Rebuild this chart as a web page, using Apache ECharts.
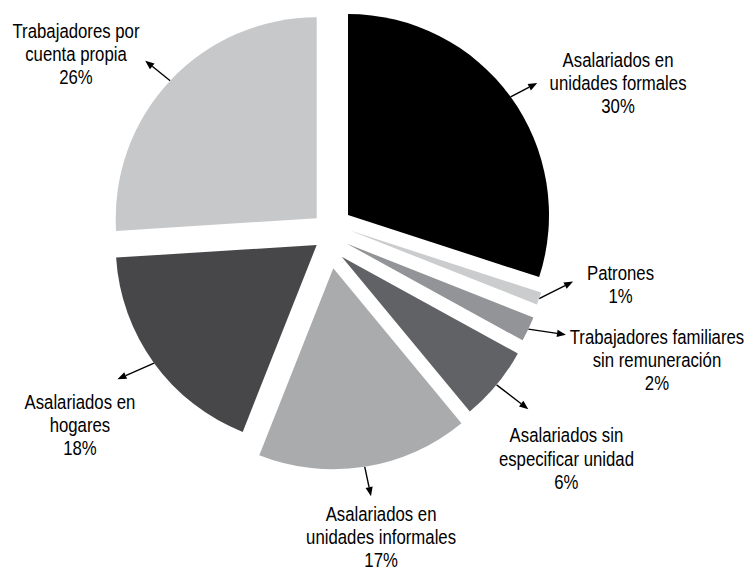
<!DOCTYPE html>
<html>
<head>
<meta charset="utf-8">
<script src="https://cdn.jsdelivr.net/npm/echarts@6/dist/echarts.min.js"></script>
<style>
html, body { margin: 0; padding: 0; background: #fff; }
#chartPie { width: 748px; height: 569px; }
</style>
</head>
<body>
<div id="chartPie"></div>
<script>
// data
var categories = [
    "Asalariados en\nunidades formales",
    "Patrones",
    "Trabajadores familiares\nsin remuneración",
    "Asalariados sin\nespecificar unidad",
    "Asalariados en\nunidades informales",
    "Asalariados en\nhogares",
    "Trabajadores por\ncuenta propia"
];
var shares = [30, 1, 2, 6, 17, 18, 26];

// style
var colors = ["#000000", "#cbcccd", "#929497", "#616266", "#aaabad", "#47474a", "#c7c8ca"];
var pieCenter = [333, 238];
var pieRadius = 201;
// every slice is pulled out of the centre by its own amount
var explode = [[15, -23], [17, -7.5], [13.5, 5.5], [8.7, 18.7], [0.3, 30.3], [-16.3, 7], [-16.3, -19.7]];
var arrowAngle = [27.4, 26.6, -8.4, -37.5, -78, 203.6, 141.3];
var arrowLength = [30, 38, 38, 40, 30, 40, 32];
var labelOffset = [[80.8, 0.5], [47.4, 3.4], [91, 26], [38.1, 49.9], [10.1, 41.3], [-37.5, 46.5], [-69.2, -6.1]];
// no condensed face installed: squeeze Liberation Sans instead
var labelFont = '19.5px "Liberation Sans", Arial, sans-serif';
var labelSqueeze = 0.86;

var total = shares.reduce(function (a, b) { return a + b; }, 0);

function sliceCenter(i) {
    return [pieCenter[0] + explode[i][0], pieCenter[1] + explode[i][1]];
}

var series = shares.map(function (v, i) {
    return {
        type: "pie",
        silent: true,
        animation: false,
        center: sliceCenter(i),
        radius: pieRadius,
        startAngle: 90,
        clockwise: true,
        label: { show: false },
        labelLine: { show: false },
        emphasis: { disabled: true },
        data: shares.map(function (w, j) {
            return {
                value: w,
                name: categories[j],
                itemStyle: {
                    color: j === i ? colors[j] : "rgba(0,0,0,0)",
                    borderWidth: 0
                }
            };
        })
    };
});

// arrows and labels, started from the middle of each slice's arc
var graphics = [];
var cum = 0;
shares.forEach(function (v, i) {
    var mid = (90 - 360 * (cum + v / 2) / total) * Math.PI / 180;
    cum += v;
    var c = sliceCenter(i);
    var px = c[0] + pieRadius * Math.cos(mid);
    var py = c[1] - pieRadius * Math.sin(mid);
    var a = arrowAngle[i] * Math.PI / 180;
    var ux = Math.cos(a), uy = -Math.sin(a);
    var ex = px + ux * arrowLength[i], ey = py + uy * arrowLength[i];
    var head = 9, half = 3.6;
    var bx = ex - ux * head, by = ey - uy * head;
    graphics.push({
        type: "line",
        shape: { x1: px, y1: py, x2: bx, y2: by },
        style: { stroke: "#000", lineWidth: 1.4 }
    });
    graphics.push({
        type: "polygon",
        shape: { points: [[ex, ey], [bx - uy * half, by + ux * half], [bx + uy * half, by - ux * half]] },
        style: { fill: "#000" }
    });
    graphics.push({
        type: "text",
        x: ex + labelOffset[i][0],
        y: ey + labelOffset[i][1],
        scaleX: labelSqueeze,
        style: {
            text: categories[i] + "\n" + Math.round(v / total * 100) + "%",
            x: 0,
            y: 0,
            font: labelFont,
            fill: "#000",
            align: "center",
            textAlign: "center",
            verticalAlign: "middle",
            textVerticalAlign: "middle",
            lineHeight: 23.3
        }
    });
});

var chartPie = echarts.init(document.getElementById("chartPie"), null, { renderer: "svg" });
chartPie.setOption({
    animation: false,
    backgroundColor: "#fff",
    series: series,
    graphic: graphics
});
</script>
</body>
</html>
